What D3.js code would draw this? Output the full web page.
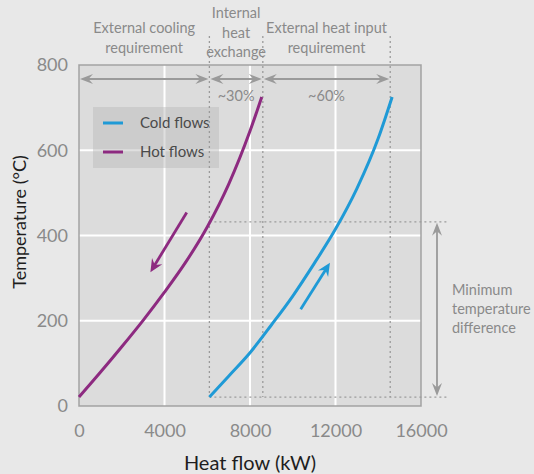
<!DOCTYPE html>
<html>
<head>
<meta charset="utf-8">
<script src="https://cdn.jsdelivr.net/npm/d3@7"></script>
<style>
  html, body { margin: 0; padding: 0; background: #e8e8e8; }
  svg { display: block; font-family: Lato, "Open Sans", sans-serif; }
</style>
</head>
<body>
<svg id="chart" width="534" height="474"></svg>
<script>
// Axis ticks
const xTicks = [0, 4000, 8000, 12000, 16000];
const yTicks = [0, 200, 400, 600, 800];

// Composite curves: heat flow (kW) vs temperature (°C)
const hotQ  = [0, 1000, 2000, 3000, 4000, 5000, 6000, 7000, 8000, 8550];
const hotT  = [21, 79, 139, 201, 267, 338, 420, 520, 645, 725];
const coldQ = [6100, 7000, 8000, 9000, 10000, 11000, 12000, 13000, 14000, 14650];
const coldT = [21, 70, 125, 190, 258, 334, 415, 510, 628, 725];

const seriesNames  = ["Cold flows", "Hot flows"];
const seriesColors = ["#1f9ad6", "#8d2a80"];

// Heat-flow spans: cooling / internal exchange / heating
const spanBounds = [0, 6100, 8600, 14560];
const spanShares = ["", "~30%", "~60%"];
const spanLabels = [["External cooling", "requirement"], ["Internal", "heat", "exchange"], ["External heat input", "requirement"]];

// Pinch: minimum temperature difference between the curves
const pinchQ = 6100, pinchHotT = 432, pinchColdT = 21;
const minDiffLabel = ["Minimum", "temperature", "difference"];

// Flow-direction arrows [start, end] in (kW, °C)
const hotArrow  = [[5040, 454], [3340, 314]];
const coldArrow = [[10370, 227], [11740, 336]];

const svg = d3.select("#chart");
const x = d3.scaleLinear().domain([0, 16000]).range([79, 421]);
const y = d3.scaleLinear().domain([0, 800]).range([406, 65]);

const grey = "#9a9a9a", textGrey = "#8a8a8a";

// plot background
svg.append("rect").attr("x", x(0)).attr("y", y(800))
  .attr("width", x(16000) - x(0)).attr("height", y(0) - y(800))
  .attr("fill", "#dcdcdc");

// grid
svg.append("g").selectAll("line").data(xTicks.slice(1, -1)).join("line")
  .attr("x1", d => x(d)).attr("x2", d => x(d)).attr("y1", y(0)).attr("y2", y(800))
  .attr("stroke", "#fff").attr("stroke-width", 2);
svg.append("g").selectAll("line").data(yTicks.slice(1, -1)).join("line")
  .attr("y1", d => y(d)).attr("y2", d => y(d)).attr("x1", x(0)).attr("x2", x(16000))
  .attr("stroke", "#fff").attr("stroke-width", 2);

// frame
svg.append("rect").attr("x", x(0)).attr("y", y(800))
  .attr("width", x(16000) - x(0)).attr("height", y(0) - y(800))
  .attr("fill", "none").attr("stroke", "#a2a2a2").attr("stroke-width", 1.5);

// axes
const xAxis = svg.append("g").attr("transform", `translate(0,${y(0)})`)
  .call(d3.axisBottom(x).tickValues(xTicks).tickSize(0).tickPadding(18).tickFormat(d3.format("d")));
const yAxis = svg.append("g").attr("transform", `translate(${x(0)},0)`)
  .call(d3.axisLeft(y).tickValues(yTicks).tickSize(0).tickPadding(11));
[xAxis, yAxis].forEach(a => {
  a.select(".domain").remove();
  a.selectAll("text").attr("font-size", 18).attr("fill", textGrey).attr("font-family", "Lato, sans-serif");
});

svg.append("text").attr("x", 250).attr("y", 470).attr("text-anchor", "middle")
  .attr("font-size", 20).attr("fill", "#1e1e1e").text("Heat flow (kW)");
svg.append("text").attr("transform", "translate(26,222) rotate(-90)").attr("text-anchor", "middle")
  .attr("font-size", 18).attr("fill", "#1e1e1e").text("Temperature (°C)");

// legend box
const lg = svg.append("g");
lg.append("rect").attr("x", 93).attr("y", 107).attr("width", 126).attr("height", 61)
  .attr("fill", "rgb(185,185,185)").attr("fill-opacity", 0.45);
seriesNames.forEach((name, i) => {
  const cy = 123 + i * 29;
  lg.append("line").attr("x1", 103).attr("x2", 123).attr("y1", cy).attr("y2", cy)
    .attr("stroke", seriesColors[i]).attr("stroke-width", 3);
  lg.append("text").attr("x", 140).attr("y", cy).attr("dy", "0.35em")
    .attr("font-size", 15).attr("fill", "#4a4a4a").text(name);
});

// dotted guides
const dotted = (x1, y1, x2, y2) => svg.append("line")
  .attr("x1", x1).attr("y1", y1).attr("x2", x2).attr("y2", y2)
  .attr("stroke", grey).attr("stroke-width", 1.3).attr("stroke-dasharray", "2,3");
spanBounds.slice(1).forEach(q => dotted(x(q), 36, x(q), y(pinchColdT)));
dotted(x(pinchQ), y(pinchHotT), 447, y(pinchHotT));
dotted(x(pinchQ), y(pinchColdT), 447, y(pinchColdT));

// arrow helpers
function head(g, tx, ty, ang, color, len, half) {
  g.append("path")
    .attr("d", `M0,0L${-len},${-half}L${-len * 0.65},0L${-len},${half}Z`)
    .attr("transform", `translate(${tx},${ty}) rotate(${ang * 180 / Math.PI})`)
    .attr("fill", color);
}
function arrow(x1, y1, x2, y2, color, w, len, half, both) {
  const g = svg.append("g");
  const ang = Math.atan2(y2 - y1, x2 - x1);
  const cut = len * 0.6;
  const sx = both ? x1 + Math.cos(ang) * cut : x1, sy = both ? y1 + Math.sin(ang) * cut : y1;
  g.append("line").attr("x1", sx).attr("y1", sy)
    .attr("x2", x2 - Math.cos(ang) * cut).attr("y2", y2 - Math.sin(ang) * cut)
    .attr("stroke", color).attr("stroke-width", w);
  head(g, x2, y2, ang, color, len, half);
  if (both) head(g, x1, y1, ang + Math.PI, color, len, half);
}

// span arrows and labels along the top
const arrowY = 79;
for (let i = 0; i < 3; i++) {
  const a = spanBounds[i], b = spanBounds[i + 1];
  arrow(x(a) + 1, arrowY, x(b) - 1, arrowY, grey, 1.8, 13, 5, true);
  const cx = (x(a) + x(b)) / 2;
  if (spanShares[i]) svg.append("text").attr("x", cx).attr("y", 96).attr("dy", "0.35em")
    .attr("text-anchor", "middle").attr("font-size", 14.5).attr("fill", textGrey).text(spanShares[i]);
  const lines = spanLabels[i];
  const y0 = lines.length === 3 ? 13 : 28;
  lines.forEach((t, k) => svg.append("text").attr("x", cx).attr("y", y0 + k * 19.5).attr("dy", "0.35em")
    .attr("text-anchor", "middle").attr("font-size", 14.5).attr("fill", textGrey).text(t));
}

// minimum temperature difference
arrow(437, y(pinchHotT) + 1, 437, y(pinchColdT) - 1, grey, 1.8, 13, 5, true);
minDiffLabel.forEach((t, k) => svg.append("text").attr("x", 452).attr("y", 290 + k * 19).attr("dy", "0.35em")
  .attr("font-size", 14.5).attr("fill", textGrey).text(t));

// composite curves
const line = d3.line().x(d => x(d[0])).y(d => y(d[1])).curve(d3.curveMonotoneX);
const cold = coldQ.map((q, i) => [q, coldT[i]]);
const hot  = hotQ.map((q, i) => [q, hotT[i]]);
svg.append("path").attr("d", line(cold)).attr("fill", "none")
  .attr("stroke", seriesColors[0]).attr("stroke-width", 3);
svg.append("path").attr("d", line(hot)).attr("fill", "none")
  .attr("stroke", seriesColors[1]).attr("stroke-width", 3);

// flow direction arrows
arrow(x(hotArrow[0][0]), y(hotArrow[0][1]), x(hotArrow[1][0]), y(hotArrow[1][1]), seriesColors[1], 2.8, 13, 6, false);
arrow(x(coldArrow[0][0]), y(coldArrow[0][1]), x(coldArrow[1][0]), y(coldArrow[1][1]), seriesColors[0], 2.8, 13, 6, false);
</script>
</body>
</html>
